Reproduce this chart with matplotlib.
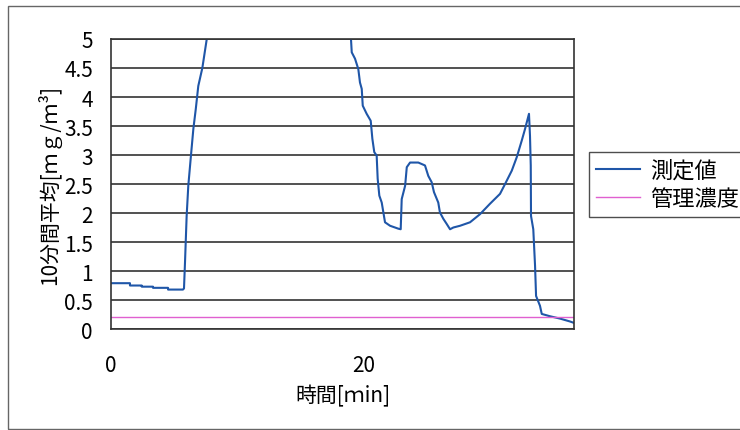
import matplotlib.pyplot as plt
from matplotlib.patches import Rectangle

plt.rcParams['font.family'] = ['Noto Sans CJK JP', 'DejaVu Sans']

# 測定値 (time in minutes, 10-min average mg/m3)
t_meas = [0.0, 1.50, 1.50, 2.43, 2.43, 3.32, 3.32, 4.51, 4.51, 5.69, 5.77,
          5.85, 5.98, 6.11, 6.32, 6.51, 6.70, 6.90, 7.22, 7.57, 8.2, 11.0,
          15.0, 18.1, 18.97, 19.03, 19.29, 19.55, 19.68, 19.82, 19.90, 20.21,
          20.53, 20.66, 20.81, 21.0, 21.08, 21.21, 21.40, 21.53, 21.66, 22.06,
          22.71, 22.90, 22.98, 23.25, 23.38, 23.64, 24.29, 24.82, 25.08, 25.35,
          25.53, 25.87, 26.0, 26.27, 26.54, 26.80, 27.06, 27.59, 28.38, 29.17,
          29.96, 30.75, 31.15, 31.68, 32.07, 32.47, 32.73, 33.04, 33.12, 33.18,
          33.20, 33.38, 33.52, 33.60, 33.91, 34.05, 34.70, 35.49, 36.28, 36.54]
v_meas = [0.79, 0.79, 0.75, 0.75, 0.73, 0.73, 0.71, 0.71, 0.68, 0.68, 0.70,
          1.15, 1.95, 2.47, 2.99, 3.45, 3.79, 4.19, 4.50, 5.00, 6.0, 8.0,
          7.5, 5.8, 5.00, 4.77, 4.66, 4.48, 4.25, 4.14, 3.85, 3.71,
          3.59, 3.28, 3.05, 2.99, 2.59, 2.30, 2.18, 2.01, 1.84, 1.78,
          1.73, 1.72, 2.24, 2.47, 2.79, 2.87, 2.87, 2.82, 2.64, 2.53,
          2.36, 2.18, 2.01, 1.90, 1.81, 1.72, 1.75, 1.78, 1.84, 1.98,
          2.16, 2.33, 2.50, 2.73, 2.96, 3.25, 3.45, 3.71, 3.33, 2.82,
          1.95, 1.72, 1.09, 0.57, 0.40, 0.26, 0.22, 0.18, 0.13, 0.11]

# 管理濃度
t_limit = [0.0, 36.6]
v_limit = [0.2, 0.2]

yticks = [0, 0.5, 1, 1.5, 2, 2.5, 3, 3.5, 4, 4.5, 5]
ytick_labels = ['0', '0.5', '1', '1.5', '2', '2.5', '3', '3.5', '4', '4.5', '5']
xticks = [0, 20]

fig = plt.figure(figsize=(7.4, 4.31), dpi=100)
ax = fig.add_axes([0.15, 0.2343, 0.6257, 0.6729])

ax.plot(t_meas, v_meas, color='#1f56a8', lw=1.5, label='測定値')
ax.plot(t_limit, v_limit, color='#e060d0', lw=1.0, label='管理濃度')

ax.set_xlim(0, 36.6)
ax.set_ylim(0, 5)
ax.set_yticks(yticks)
ax.set_yticklabels(ytick_labels)
ax.set_xticks(xticks)
ax.tick_params(axis='y', length=0, pad=13, labelsize=15)
ax.tick_params(axis='x', length=0, pad=18, labelsize=15)
ax.grid(axis='y', color='#333333', lw=1.2)
ax.set_axisbelow(True)
for s in ax.spines.values():
    s.set_color('#333333')
    s.set_linewidth(1.2)

ax.set_ylabel('10分間平均[ｍｇ/ｍ³]', fontsize=15, labelpad=2)
ax.set_xlabel('時間[ｍin]', fontsize=15, labelpad=6)

leg = fig.legend(loc='upper left', bbox_to_anchor=(589 / 740, 1 - 153 / 431),
                 fontsize=16, frameon=True, fancybox=False, handlelength=2.0,
                 handletextpad=0.45, borderpad=0.3, labelspacing=0.25,
                 borderaxespad=0)
leg.get_frame().set_edgecolor('#222222')
leg.get_frame().set_linewidth(1.0)

# outer chart frame
fig.patches.append(Rectangle((8 / 740, 1 / 431), 1.2, 423 / 431,
                             transform=fig.transFigure, fill=False,
                             ec='#666666', lw=1.0))

fig.savefig('out.png', dpi=100)
